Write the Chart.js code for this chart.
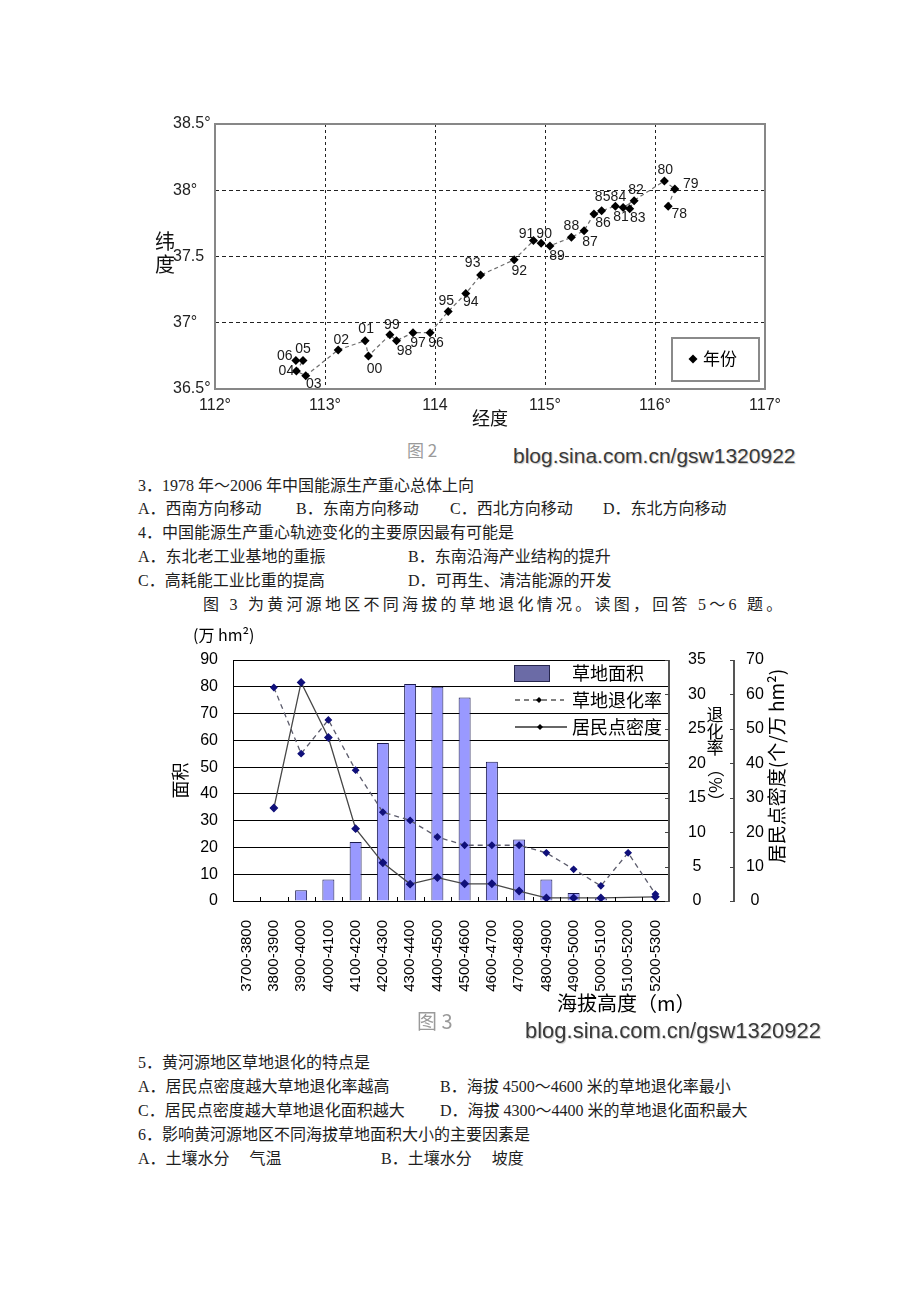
<!DOCTYPE html>
<html>
<head>
<meta charset="utf-8">
<script src="https://cdn.jsdelivr.net/npm/chart.js@4.4.1/dist/chart.umd.min.js"></script>
<style>
  body { margin: 0; background: #fff; }
  #page { position: relative; width: 920px; height: 1302px; overflow: hidden; background: #fff; }
  .t { position: absolute; font-family: 'Liberation Serif', 'Noto Sans CJK SC', serif; font-size: 16px; line-height: 20px; height: 20px; color: #1e1e1e; white-space: pre; }
  .wm { position: absolute; font-family: 'Liberation Sans', Arial, sans-serif; color: #3a3a3a; text-shadow: 1px 1px 1px #c4c4c4; white-space: pre; }
  .fig { position: absolute; font-family: 'Noto Sans CJK SC', sans-serif; color: #9a9a9a; white-space: pre; }
  canvas { position: absolute; }
</style>
</head>
<body>
<div id="page">
  <canvas id="c1" width="650" height="330" style="left:140px;top:104px"></canvas>
  <div class="fig" style="left:407px;top:439px;font-size:17px;line-height:22px">图 2</div>
  <div class="wm" style="left:513px;top:443px;font-size:21px;line-height:26px">blog.sina.com.cn/gsw1320922</div>

  <div class="t" style="left:138px;top:476px">3．1978 年～2006 年中国能源生产重心总体上向</div>
  <div class="t" style="left:138px;top:499px">A．西南方向移动</div>
  <div class="t" style="left:296px;top:499px">B．东南方向移动</div>
  <div class="t" style="left:450px;top:499px">C．西北方向移动</div>
  <div class="t" style="left:603px;top:499px">D．东北方向移动</div>
  <div class="t" style="left:138px;top:523px">4．中国能源生产重心轨迹变化的主要原因最有可能是</div>
  <div class="t" style="left:138px;top:547px">A．东北老工业基地的重振</div>
  <div class="t" style="left:408px;top:547px">B．东南沿海产业结构的提升</div>
  <div class="t" style="left:138px;top:571px">C．高耗能工业比重的提高</div>
  <div class="t" style="left:408px;top:571px">D．可再生、清洁能源的开发</div>
  <div class="t" style="left:203px;top:595px;letter-spacing:3.25px">图 3 为黄河源地区不同海拔的草地退化情况。读图，回答 5～6 题。</div>

  <canvas id="c2" width="680" height="405" style="left:150px;top:620px"></canvas>
  <div class="fig" style="left:417px;top:1008px;font-size:20px;line-height:26px">图 3</div>
  <div class="wm" style="left:525px;top:1017px;font-size:22px;line-height:28px">blog.sina.com.cn/gsw1320922</div>

  <div class="t" style="left:138px;top:1053px">5．黄河源地区草地退化的特点是</div>
  <div class="t" style="left:138px;top:1077px">A．居民点密度越大草地退化率越高</div>
  <div class="t" style="left:440px;top:1077px">B．海拔 4500～4600 米的草地退化率最小</div>
  <div class="t" style="left:138px;top:1101px">C．居民点密度越大草地退化面积越大</div>
  <div class="t" style="left:440px;top:1101px">D．海拔 4300～4400 米的草地退化面积最大</div>
  <div class="t" style="left:138px;top:1125px">6．影响黄河源地区不同海拔草地面积大小的主要因素是</div>
  <div class="t" style="left:138px;top:1149px">A．土壤水分　 气温</div>
  <div class="t" style="left:381px;top:1149px">B．土壤水分　 坡度</div>
</div>

<script>
// ---- figure 2: centre of gravity of energy production, 1978-2006
var years = ['78', '79', '80', '81', '82', '83', '84', '85', '86', '87', '88', '89', '90', '91', '92',
             '93', '94', '95', '96', '97', '98', '99', '00', '01', '02', '03', '04', '05', '06'];
var longitude = [116.12, 116.18, 116.085, 115.71, 115.81, 115.77, 115.64, 115.515, 115.445, 115.355,
                 115.24, 115.045, 114.965, 114.895, 114.72, 114.415, 114.28, 114.12, 113.955, 113.80,
                 113.65, 113.59, 113.395, 113.365, 113.12, 112.825, 112.74, 112.80, 112.735];
var latitude = [37.88, 38.01, 38.07, 37.87, 37.92, 37.86, 37.88, 37.845, 37.82, 37.695,
                37.645, 37.58, 37.60, 37.62, 37.475, 37.36, 37.22, 37.085, 36.925, 36.925,
                36.865, 36.91, 36.75, 36.865, 36.795, 36.60, 36.635, 36.715, 36.715];

// ---- figure 3: grassland degradation by altitude
var altitudeBands = ['3700-3800', '3800-3900', '3900-4000', '4000-4100', '4100-4200', '4200-4300',
                     '4300-4400', '4400-4500', '4500-4600', '4600-4700', '4700-4800', '4800-4900',
                     '4900-5000', '5000-5100', '5100-5200', '5200-5300'];
var grassArea = [0, 0, 4, 8, 22, 59, 81, 80, 76, 52, 23, 8, 3, 1, 0, 0];
var degradeRate = [null, 31, 21.4, 26.3, 19, 12.9, 11.7, 9.3, 8.1, 8.1, 8.1, 7.0, 4.6, 2.2, 7.0, 1.0];
var settleDensity = [null, 27, 63.5, 47.5, 21, 11.1, 4.9, 6.8, 5.0, 5.0, 2.9, 0.9, 0.9, 0.9, null, 1.2];

// where each year label sits relative to its point (px)
var yearLabelOffset = [[11, 8], [16, -5], [1, -11], [-2, 10], [2, -11], [8, 9], [3, -9], [1, -14], [9, 9],
                       [6, 11], [0, -11], [7, 10], [3, -9], [-7, -6], [5, 11], [-8, -12], [5, 9], [-2, -10],
                       [6, 10], [5, 10], [8, 11], [2, -10], [6, 13], [1, -11], [3, -10], [8, 8], [-10, 0],
                       [0, -11], [-11, -4]];

Chart.defaults.font.family = "'Liberation Sans', Arial, sans-serif";
Chart.defaults.color = '#000';
var CJK = "'Noto Sans CJK SC', sans-serif";

function diamond(ctx, x, y, r, color) {
	ctx.fillStyle = color;
	ctx.beginPath();
	ctx.moveTo(x, y - r);
	ctx.lineTo(x + r, y);
	ctx.lineTo(x, y + r);
	ctx.lineTo(x - r, y);
	ctx.closePath();
	ctx.fill();
}

var fig2Extras = {
	id: 'fig2Extras',
	beforeDatasetsDraw: function (chart) {
		var ctx = chart.ctx, a = chart.chartArea;
		ctx.save();
		ctx.strokeStyle = '#878787';
		ctx.lineWidth = 2;
		ctx.strokeRect(a.left, a.top, a.right - a.left, a.bottom - a.top);
		ctx.restore();
	},
	afterDraw: function (chart) {
		var ctx = chart.ctx, a = chart.chartArea;
		var pts = chart.getDatasetMeta(0).data;
		ctx.save();
		// year labels
		ctx.font = '14px ' + Chart.defaults.font.family;
		ctx.fillStyle = '#1a1a1a';
		ctx.textAlign = 'center';
		ctx.textBaseline = 'middle';
		for (var i = 0; i < pts.length; i++) {
			ctx.fillText(years[i], pts[i].x + yearLabelOffset[i][0], pts[i].y + yearLabelOffset[i][1]);
		}
		// stacked y title
		ctx.font = '20px ' + CJK;
		ctx.fillStyle = '#111';
		var mid = (a.top + a.bottom) / 2;
		ctx.fillText('纬', a.left - 50, mid - 15);
		ctx.fillText('度', a.left - 50, mid + 8);
		// legend box
		var r = a.right - 6, b = a.bottom - 8;
		ctx.strokeStyle = '#8a8a8a';
		ctx.lineWidth = 2;
		ctx.strokeRect(r - 87, b - 43, 87, 43);
		diamond(ctx, r - 66, b - 22, 4.5, '#000');
		ctx.font = '17px ' + CJK;
		ctx.fillStyle = '#000';
		ctx.textAlign = 'left';
		ctx.fillText('年份', r - 56, b - 22);
		ctx.restore();
	}
};

function gridColor(c) {
	var n = c.scale.ticks.length;
	return (c.index === 0 || c.index === n - 1) ? 'rgba(0,0,0,0)' : '#222';
}

new Chart(document.getElementById('c1'), {
	type: 'line',
	data: {
		datasets: [{
			label: '年份',
			data: years.map(function (y, i) { return { x: longitude[i], y: latitude[i] }; }),
			showLine: true,
			borderColor: '#6e6e6e',
			borderWidth: 1.2,
			borderDash: [4, 3],
			pointStyle: 'rectRot',
			pointRadius: 4.5,
			pointBackgroundColor: '#000',
			pointBorderColor: '#000',
			pointBorderWidth: 0
		}]
	},
	options: {
		responsive: false,
		animation: false,
		layout: { padding: { top: 20, right: 25, left: 33, bottom: 0 } },
		plugins: { legend: { display: false }, tooltip: { enabled: false } },
		scales: {
			x: {
				type: 'linear', min: 112, max: 117,
				ticks: { stepSize: 1, padding: 7, color: '#222', font: { size: 16 },
					callback: function (v) { return v === 114 ? '114' : v + '°'; } },
				grid: { drawTicks: false, color: gridColor, lineWidth: 1 },
				border: { display: false, dash: [3, 3] },
				title: { display: true, text: '经度', color: '#111', font: { size: 18, family: CJK }, padding: { top: 0, bottom: 5 } },
				afterFit: function (s) { s.height = 45; }
			},
			y: {
				type: 'linear', min: 36.5, max: 38.5,
				ticks: { stepSize: 0.5, crossAlign: 'far', color: '#222', font: { size: 16 },
					callback: function (v) { return v === 37.5 ? '37.5' : v + '°'; } },
				grid: { drawTicks: false, color: gridColor, lineWidth: 1 },
				border: { display: false, dash: [4, 3] },
				afterFit: function (s) { s.width = 42; }
			}
		}
	},
	plugins: [fig2Extras]
});

var fig3Extras = {
	id: 'fig3Extras',
	afterDraw: function (chart) {
		var ctx = chart.ctx, a = chart.chartArea;
		var s1 = chart.scales.y1, s2 = chart.scales.y2, sx = chart.scales.x;
		ctx.save();
		// right-hand axis lines with inward ticks
		[s1, s2].forEach(function (s) {
			ctx.strokeStyle = '#555';
			ctx.lineWidth = 2;
			ctx.beginPath(); ctx.moveTo(s.left, s.top); ctx.lineTo(s.left, s.bottom + 1); ctx.stroke();
			ctx.strokeStyle = '#444';
			ctx.lineWidth = 1;
			s.ticks.forEach(function (t) {
				var y = Math.round(s.getPixelForValue(t.value)) + 0.5;
				ctx.beginPath(); ctx.moveTo(s.left, y); ctx.lineTo(s.left - 4, y); ctx.stroke();
			});
		});
		// category boundary ticks on the x axis, pointing up
		ctx.strokeStyle = '#000';
		for (var i = 1; i < sx.ticks.length; i++) {
			var x = Math.round((sx.getPixelForTick(i - 1) + sx.getPixelForTick(i)) / 2) + 0.5;
			ctx.beginPath(); ctx.moveTo(x, a.bottom); ctx.lineTo(x, a.bottom - 4); ctx.stroke();
		}

		ctx.fillStyle = '#000';
		ctx.textBaseline = 'middle';
		// unit of the area axis
		ctx.font = '16px ' + CJK;
		ctx.textAlign = 'left';
		ctx.fillText('(万 hm²)', a.left - 40, a.top - 25);
		// degradation-rate title: stacked chars, then rotated (%)
		ctx.font = '17px ' + CJK;
		ctx.textAlign = 'center';
		var tx = s1.left + 46;
		ctx.fillText('退', tx, a.top + 55);
		ctx.fillText('化', tx, a.top + 72);
		ctx.fillText('率', tx, a.top + 88);
		ctx.save();
		ctx.translate(tx, a.top + 125);
		ctx.rotate(Math.PI / 2);
		ctx.fillText('（%）', 0, 0);
		ctx.restore();
		// settlement density title
		ctx.save();
		ctx.font = '19px ' + CJK;
		ctx.translate(s2.left + 43, a.top + 106);
		ctx.rotate(-Math.PI / 2);
		ctx.fillText('居民点密度(个/万 hm²)', 0, 0);
		ctx.restore();
		// x title
		ctx.font = '20px ' + CJK;
		ctx.textAlign = 'left';
		ctx.fillText('海拔高度（m）', a.right - 112, a.bottom + 102);
		// legend
		var lx = a.left + 281, ty = a.top;
		ctx.fillStyle = '#6b6ba6';
		ctx.fillRect(lx, ty + 5, 36, 17);
		ctx.strokeStyle = '#26264d';
		ctx.lineWidth = 1;
		ctx.strokeRect(lx + 0.5, ty + 5.5, 35, 16);
		ctx.strokeStyle = '#555';
		ctx.lineWidth = 1.3;
		ctx.setLineDash([5, 4]);
		ctx.beginPath(); ctx.moveTo(lx + 1, ty + 40); ctx.lineTo(lx + 50, ty + 40); ctx.stroke();
		ctx.setLineDash([]);
		ctx.strokeStyle = '#333';
		ctx.beginPath(); ctx.moveTo(lx + 1, ty + 67); ctx.lineTo(lx + 53, ty + 67); ctx.stroke();
		diamond(ctx, lx + 25, ty + 40, 3, '#000');
		diamond(ctx, lx + 26, ty + 67, 3, '#000');
		ctx.fillStyle = '#000';
		ctx.font = '18px ' + CJK;
		ctx.fillText('草地面积', lx + 58, ty + 13);
		ctx.fillText('草地退化率', lx + 58, ty + 40);
		ctx.fillText('居民点密度', lx + 58, ty + 67);
		ctx.restore();
	}
};

new Chart(document.getElementById('c2'), {
	data: {
		labels: altitudeBands,
		datasets: [{
			type: 'bar',
			label: '草地面积',
			data: grassArea,
			yAxisID: 'y',
			backgroundColor: '#9999ff',
			borderColor: '#1c1c50',
			borderWidth: 1,
			barPercentage: 0.44,
			categoryPercentage: 1,
			order: 3
		}, {
			type: 'line',
			label: '草地退化率',
			data: degradeRate,
			yAxisID: 'y1',
			borderColor: '#5c5c6c',
			borderWidth: 1.3,
			borderDash: [5, 4],
			pointStyle: 'rectRot',
			pointRadius: 3,
			pointBackgroundColor: '#10107a',
			pointBorderColor: '#10107a',
			order: 2
		}, {
			type: 'line',
			label: '居民点密度',
			data: settleDensity,
			yAxisID: 'y2',
			borderColor: '#474747',
			borderWidth: 1.3,
			pointStyle: 'rectRot',
			pointRadius: 3.5,
			pointBackgroundColor: '#10107a',
			pointBorderColor: '#10107a',
			spanGaps: true,
			order: 1
		}]
	},
	options: {
		responsive: false,
		animation: false,
		layout: { padding: { top: 40, right: 0, left: 0, bottom: 0 } },
		plugins: { legend: { display: false }, tooltip: { enabled: false } },
		scales: {
			x: {
				ticks: { autoSkip: false, minRotation: 90, maxRotation: 90, padding: 11, font: { size: 15 }, color: '#000' },
				grid: { display: false },
				border: { color: '#000' },
				afterFit: function (s) { s.height = 124; }
			},
			y: {
				position: 'left', min: 0, max: 90,
				ticks: { stepSize: 10, padding: 15, font: { size: 16 }, color: '#000' },
				grid: { color: '#000', drawTicks: false },
				border: { color: '#000' },
				title: { display: true, text: '面积', color: '#000', font: { size: 18, family: CJK }, padding: { top: 19, bottom: 0 } },
				afterFit: function (s) { s.width = 83; }
			},
			y1: {
				position: 'right', weight: 1, min: 0, max: 35,
				ticks: { stepSize: 5, crossAlign: 'center', padding: 11, font: { size: 16 }, color: '#000' },
				grid: { display: false },
				border: { display: false },
				afterFit: function (s) { s.width = 65; }
			},
			y2: {
				position: 'right', weight: 2, min: 0, max: 70,
				ticks: { stepSize: 10, crossAlign: 'center', padding: 4, font: { size: 16 }, color: '#000' },
				grid: { display: false },
				border: { display: false },
				afterFit: function (s) { s.width = 96; }
			}
		}
	},
	plugins: [fig3Extras]
});
</script>
</body>
</html>
